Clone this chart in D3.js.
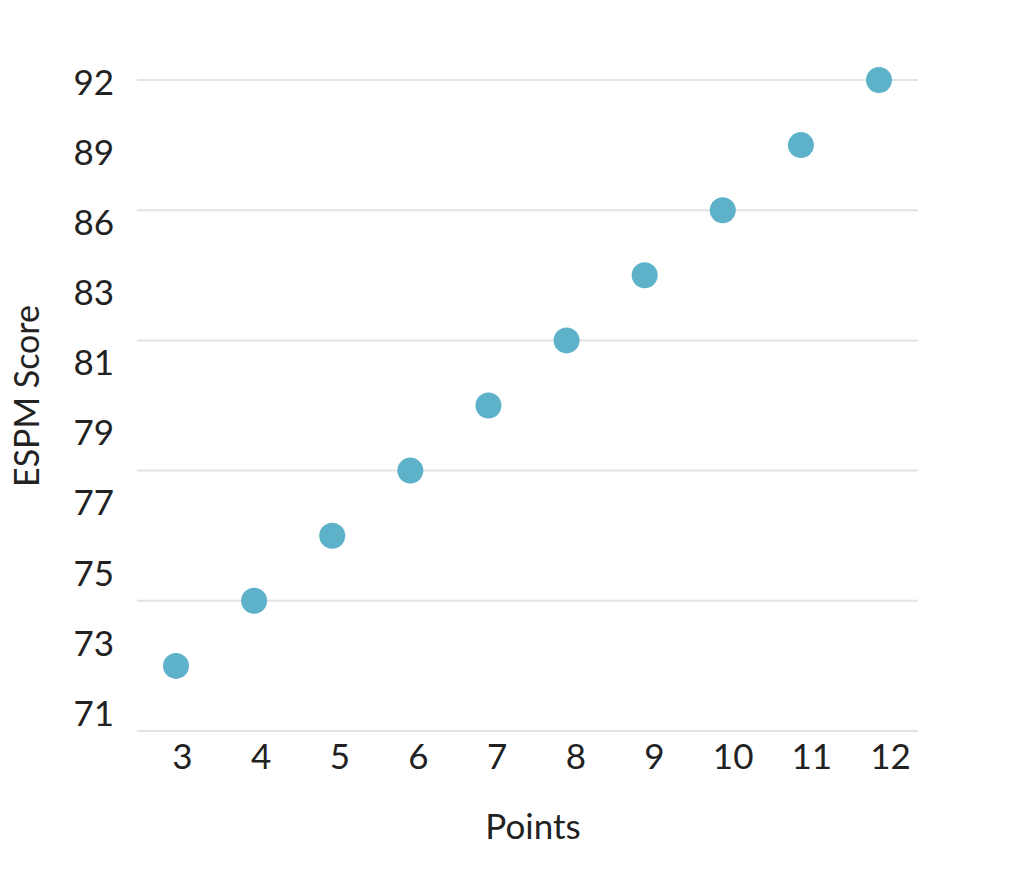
<!DOCTYPE html>
<html>
<head>
<meta charset="utf-8">
<script src="https://cdn.jsdelivr.net/npm/d3@7"></script>
<style>
  html, body { margin: 0; padding: 0; background: #fff; }
  svg { display: block; font-family: Lato, "Open Sans", sans-serif; }
</style>
</head>
<body>
<svg id="chart" width="1033" height="880"></svg>
<script>
// ---- data ----
const points = [3, 4, 5, 6, 7, 8, 9, 10, 11, 12];
const espmScores = [73.1, 75.2, 77.3, 79.4, 81.5, 83.6, 85.7, 87.8, 89.9, 92.0];
const yTickLabels = ["71", "73", "75", "77", "79", "81", "83", "86", "89", "92"];
const gridValues = [71, 75.2, 79.4, 83.6, 87.8, 92];
const xLabel = "Points";
const yLabel = "ESPM Score";

const svg = d3.select("#chart");
const pointColor = "#5db1c9";
const textColor = "#222";

const x = d3.scaleLinear().domain([3, 12]).range([176, 879]);
const xLab = d3.scaleLinear().domain([3, 12]).range([182, 890]);
const y = d3.scaleLinear().domain([71, 92]).range([731, 80]);
const yLab = d3.scalePoint().domain(yTickLabels).range([713, 82]);

// gridlines
svg.append("g").selectAll("line").data(gridValues).join("line")
  .attr("x1", 137).attr("x2", 918)
  .attr("y1", d => y(d)).attr("y2", d => y(d))
  .attr("stroke", "#e3e3e3").attr("stroke-width", 2);

// x axis labels
const xAxis = d3.axisBottom(xLab).tickValues(points).tickSize(0).tickPadding(0)
  .tickFormat(d3.format("d"));
const gx = svg.append("g").attr("transform", "translate(0,757)").call(xAxis);
gx.select(".domain").remove();
gx.selectAll("text").attr("font-size", 35).attr("fill", textColor)
  .attr("font-family", "Lato, sans-serif").attr("dy", "0.35em");

// y axis labels
const yAxis = d3.axisLeft(yLab).tickSize(0).tickPadding(0);
const gy = svg.append("g").attr("transform", "translate(114,0)").call(yAxis);
gy.select(".domain").remove();
gy.selectAll("text").attr("font-size", 35).attr("fill", textColor)
  .attr("font-family", "Lato, sans-serif").attr("dy", "0.35em");

// points
svg.append("g").selectAll("circle").data(points).join("circle")
  .attr("cx", d => x(d))
  .attr("cy", (d, i) => y(espmScores[i]))
  .attr("r", 13)
  .attr("fill", pointColor);

// axis titles
svg.append("text").attr("x", 533).attr("y", 827).attr("dy", "0.35em")
  .attr("text-anchor", "middle").attr("font-size", 35).attr("fill", textColor)
  .text(xLabel);
svg.append("text")
  .attr("transform", "translate(27,396) rotate(-90)")
  .attr("dy", "0.35em")
  .attr("text-anchor", "middle").attr("font-size", 34).attr("fill", textColor)
  .text(yLabel);
</script>
</body>
</html>
